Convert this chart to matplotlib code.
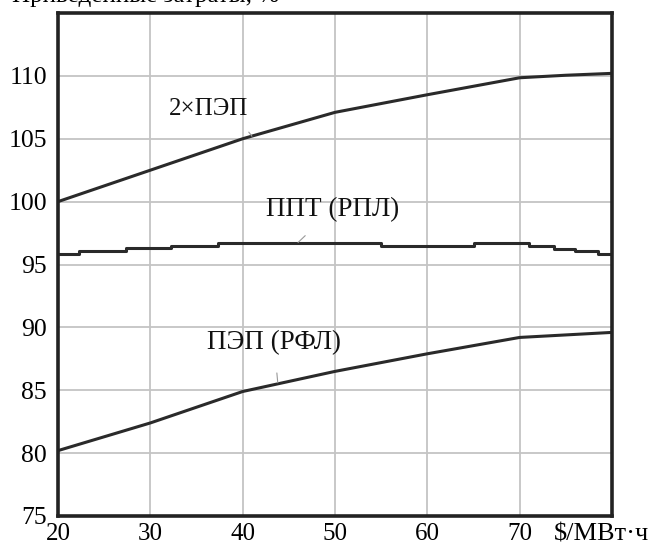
import matplotlib
matplotlib.use("Agg")
import matplotlib.pyplot as plt

# ---- data ----
x_pep2 = [20, 30, 40, 50, 60, 70, 75, 80]
y_pep2 = [100.0, 102.5, 105.0, 107.1, 108.5, 109.85, 110.05, 110.2]

x_ppt = [20, 22.3, 27.4, 32.2, 37.3, 55, 65, 71, 73.7, 76, 78.5, 80]
y_ppt = [95.85, 96.1, 96.3, 96.5, 96.7, 96.45, 96.7, 96.5, 96.25, 96.04, 95.8, 95.8]

x_pep = [20, 30, 40, 50, 60, 70, 75, 80]
y_pep = [80.2, 82.4, 84.9, 86.5, 87.9, 89.2, 89.4, 89.6]

x_ticks = [20, 30, 40, 50, 60, 70]
y_ticks = [75, 80, 85, 90, 95, 100, 105, 110]

title_text = "Приведенные затраты, %"
unit_text = "$/МВт·ч"
labels = ["2×ПЭП", "ППТ (РПЛ)", "ПЭП (РФЛ)"]

plt.rcParams['font.family'] = ['Liberation Serif', 'DejaVu Serif']

fig = plt.figure(figsize=(6.51, 5.46), dpi=100)
ax = fig.add_axes([58/651, 1-516/546, (612-58)/651, (516-13)/546])

ax.set_xlim(20, 80)
ax.set_ylim(75, 115)
ax.set_xticks(x_ticks)
ax.set_yticks(y_ticks)
ax.grid(True, color='#c4c4c4', linewidth=1.3)
ax.set_axisbelow(True)
ax.tick_params(length=0, labelsize=18.5)
ax.tick_params(axis='x', pad=5, labelsize=18)
ax.tick_params(axis='y', pad=8)
for s in ax.spines.values():
    s.set_linewidth(2.6)
    s.set_color('#222222')

lc = '#2a2a2a'
ax.plot(x_pep2, y_pep2, color=lc, lw=2.2)
ax.plot(x_ppt, y_ppt, color=lc, lw=2.2, drawstyle='steps-post')
ax.plot(x_pep, y_pep, color=lc, lw=2.2)

# curve labels with thin leader lines
ann = dict(ha='center', va='center', color='#111111')
ax.annotate(labels[0], xy=(41.0, 105.2), xytext=(36.3, 107.4), fontsize=18,
            arrowprops=dict(arrowstyle='-', color='#999999', lw=0.8,
                            connectionstyle='arc3,rad=-0.2', shrinkA=10, shrinkB=0), **ann)
ax.annotate(labels[1], xy=(46.0, 96.75), xytext=(49.7, 99.35), fontsize=19.5,
            arrowprops=dict(arrowstyle='-', color='#999999', lw=0.8, shrinkA=11, shrinkB=0), **ann)
ax.annotate(labels[2], xy=(43.8, 85.6), xytext=(43.4, 88.8), fontsize=19.5,
            arrowprops=dict(arrowstyle='-', color='#999999', lw=0.8, shrinkA=11, shrinkB=0), **ann)

fig.text(649/651, 1-540/546, unit_text, fontsize=19, ha='right', va='baseline')

fig.text(12/651, 1-2/546, title_text, fontsize=18, ha='left', va='baseline')

fig.savefig("out.png", dpi=100)
